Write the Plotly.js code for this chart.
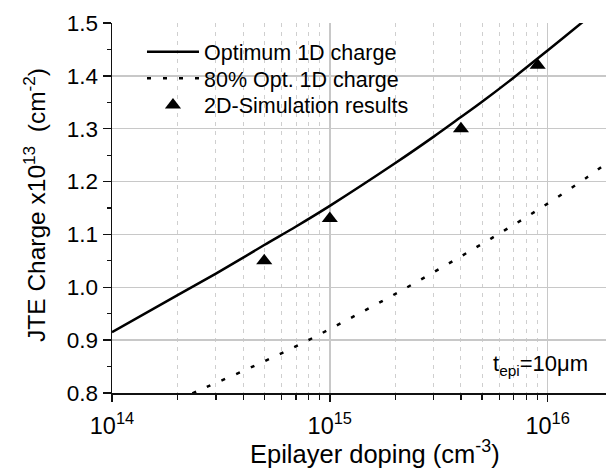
<!DOCTYPE html>
<html>
<head>
<meta charset="utf-8">
<script src="https://cdn.plot.ly/plotly-3.0.1.min.js"></script>
<style>
  html, body { margin: 0; padding: 0; background: #fff; overflow: hidden; }
  #chart { width: 606px; height: 470px; }
</style>
</head>
<body>
<div id="chart"></div>
<script>
// Epilayer doping (cm^-3) and JTE charge (x10^13 cm^-2)
const dopingOpt = [1e14, 2e14, 3e14, 4e14, 5e14, 7e14, 1e15, 2e15, 3e15, 4e15, 5e15, 7e15, 1e16, 1.5e16, 2e16];
const chargeOpt = [0.915, 0.985, 1.026, 1.056, 1.080, 1.115, 1.154, 1.235, 1.285, 1.322, 1.351, 1.397, 1.448, 1.507, 1.550];

const doping80 = [2e14, 2.71e14, 4.54e14, 7.54e14, 1.235e15, 2.05e15, 3.38e15, 5.59e15, 9.22e15, 1.53e16, 1.8e16, 2e16];
const charge80 = [0.787, 0.811, 0.852, 0.895, 0.941, 0.990, 1.041, 1.094, 1.149, 1.209, 1.230, 1.243];

const dopingSim = [5e14, 1e15, 4e15, 9e15];
const chargeSim = [1.05, 1.13, 1.30, 1.42];

const majorX = [1e14, 1e15, 1e16];
const majorXText = ['10<sup>14</sup>', '10<sup>15</sup>', '10<sup>16</sup>'];
const minorX = [2e14, 3e14, 4e14, 5e14, 6e14, 7e14, 8e14, 9e14,
                2e15, 3e15, 4e15, 5e15, 6e15, 7e15, 8e15, 9e15];

const FONT = 'Liberation Sans, Arial, Helvetica, sans-serif';
const xRange = [14, 16.268];
const yRange = [0.8, 1.5];

const traces = [
  {
    x: dopingOpt, y: chargeOpt, mode: 'lines', name: 'Optimum 1D charge', legend: 'legend',
    line: { color: '#000', width: 2.5, shape: 'spline', smoothing: 1 }
  },
  {
    x: doping80, y: charge80, mode: 'lines', name: '80% Opt. 1D charge', legend: 'legend2',
    line: { color: '#000', width: 2.5, dash: '4px,12px', shape: 'spline', smoothing: 1 }
  },
  {
    x: dopingSim, y: chargeSim, mode: 'markers', name: '2D-Simulation results', legend: 'legend3',
    marker: { symbol: 'triangle-up', size: 14, color: '#000' }
  }
];

const axisLine = { showline: true, linecolor: '#111', linewidth: 1.5, zeroline: false };

// one legend box per row so the rows sit at the intended spacing
function legendRow(yPaper) {
  return {
    x: 0.0607, y: yPaper, xanchor: 'left', yanchor: 'middle',
    bgcolor: 'rgba(0,0,0,0)', borderwidth: 0,
    font: { family: FONT, size: 21.5, color: '#000' },
    itemwidth: 52
  };
}

const layout = {
  width: 606, height: 470,
  margin: { l: 112, r: 0, t: 23, b: 77 },
  paper_bgcolor: '#fff', plot_bgcolor: '#fff',
  font: { family: FONT, color: '#000' },
  showlegend: true,
  legend: legendRow(0.9224),
  legend2: legendRow(0.8505),
  legend3: legendRow(0.7784),
  xaxis: Object.assign({}, axisLine, {
    type: 'log', range: xRange,
    tickmode: 'array', tickvals: majorX, ticktext: majorXText,
    ticks: 'outside', ticklen: 7, tickwidth: 1.5, tickcolor: '#111',
    ticklabelstandoff: 4,
    tickfont: { family: FONT, size: 23.5, color: '#000' },
    showgrid: true, gridcolor: '#c8c8c8', gridwidth: 1.5,
    minor: {
      tickvals: minorX, ticks: 'outside', ticklen: 5, tickwidth: 1.2, tickcolor: '#111',
      showgrid: true, gridcolor: '#cfcfcf', gridwidth: 1, griddash: '4px,5px'
    }
  }),
  xaxis2: Object.assign({}, axisLine, {
    type: 'log', range: xRange, overlaying: 'x', anchor: 'y', side: 'top',
    tickmode: 'array', tickvals: majorX, showticklabels: false,
    ticks: 'inside', ticklen: 7, tickwidth: 1.5, tickcolor: '#111', showgrid: false,
    minor: { tickvals: minorX, ticks: 'inside', ticklen: 4, tickwidth: 1.2, tickcolor: '#111', showgrid: false }
  }),
  yaxis: Object.assign({}, axisLine, {
    range: yRange, tickmode: 'linear', tick0: 0.8, dtick: 0.1, tickformat: '.1f',
    ticks: 'outside', ticklen: 8, tickwidth: 1.5, tickcolor: '#111',
    tickfont: { family: FONT, size: 22.5, color: '#000' },
    showgrid: true, gridcolor: '#c8c8c8', gridwidth: 1.5,
    minor: { dtick: 0.05, ticks: 'outside', ticklen: 4, tickwidth: 1.2, tickcolor: '#111', showgrid: false }
  }),
  yaxis2: Object.assign({}, axisLine, {
    range: yRange, overlaying: 'y', anchor: 'x', side: 'right',
    tickmode: 'linear', tick0: 0.8, dtick: 0.1, showticklabels: false,
    ticks: 'inside', ticklen: 5, tickwidth: 1.5, tickcolor: '#111', showgrid: false,
    minor: { dtick: 0.05, ticks: 'inside', ticklen: 3, tickwidth: 1.2, tickcolor: '#111', showgrid: false }
  }),
  shapes: [
    // white panel behind the legend, hiding the grid there
    { type: 'rect', xref: 'paper', yref: 'paper', x0: 0.0223, x1: 0.6478, y0: 0.7243, y1: 1,
      fillcolor: '#fff', line: { width: 0 }, layer: 'between' }
  ],
  annotations: [
    { xref: 'paper', yref: 'paper', x: 0.532, y: -0.112, xanchor: 'center', yanchor: 'top',
      text: 'Epilayer doping (cm<sup>-3</sup>)', showarrow: false,
      font: { family: FONT, size: 25.5, color: '#000' } },
    { xref: 'paper', yref: 'paper', x: -0.158, y: 0.508, xanchor: 'center', yanchor: 'middle',
      textangle: -90, text: 'JTE Charge x10<sup>13</sup>\u00a0\u00a0(cm<sup>-2</sup>)', showarrow: false,
      font: { family: FONT, size: 24.5, color: '#000' } },
    { xref: 'paper', yref: 'paper', x: 0.968, y: 0.075, xanchor: 'right', yanchor: 'middle',
      text: 't<sub>epi</sub>=10\u03bcm', showarrow: false,
      font: { family: FONT, size: 22, color: '#000' } }
  ]
};

Plotly.newPlot('chart', traces, layout, { staticPlot: true, displayModeBar: false });
</script>
</body>
</html>
